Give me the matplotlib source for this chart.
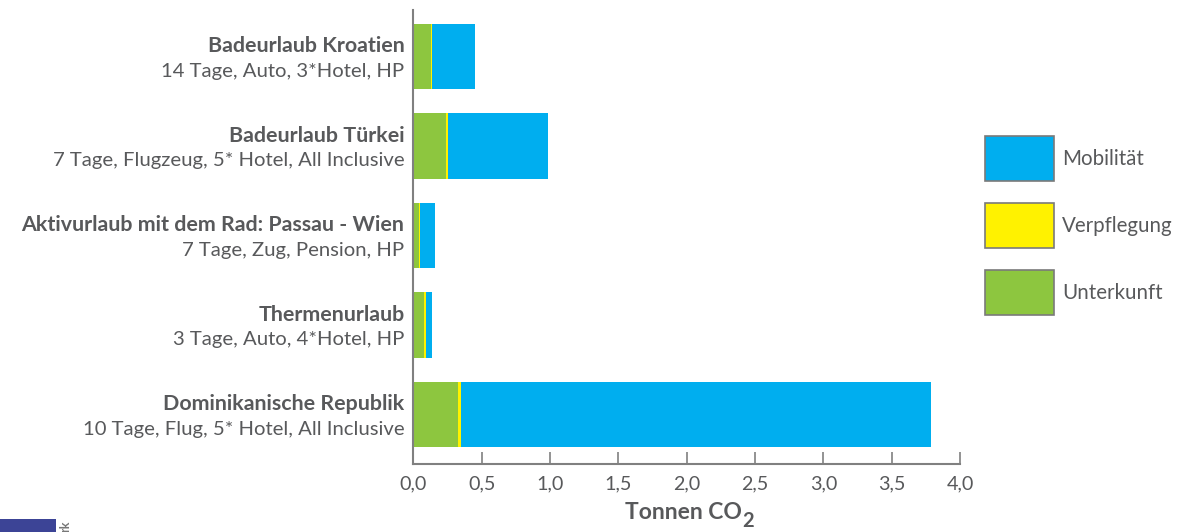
import numpy as np
import matplotlib
matplotlib.use("Agg")
from matplotlib import pyplot as plt
from matplotlib.patches import Rectangle, Circle

# Daten (von oben nach unten)
titel = ["Badeurlaub Kroatien", "Badeurlaub Türkei",
         "Aktivurlaub mit dem Rad: Passau - Wien", "Thermenurlaub",
         "Dominikanische Republik"]
details = ["14 Tage, Auto, 3*Hotel, HP",
           "7 Tage, Flugzeug, 5* Hotel, All Inclusive",
           "7 Tage, Zug, Pension, HP",
           "3 Tage, Auto, 4*Hotel, HP",
           "10 Tage, Flug, 5* Hotel, All Inclusive"]
unterkunft = [0.125, 0.235, 0.040, 0.075, 0.325]
verpflegung = [0.007, 0.015, 0.004, 0.015, 0.020]
mobilitaet = [0.315, 0.737, 0.115, 0.047, 3.445]
xticks = [0.0, 0.5, 1.0, 1.5, 2.0, 2.5, 3.0, 3.5, 4.0]

FONT = "Lato"
GRAU = "#58595b"
ACHSE = "#808080"
farben = {"Mobilität": "#00aeef", "Verpflegung": "#fff200", "Unterkunft": "#8dc63f"}

plt.rcParams["font.family"] = [FONT, "DejaVu Sans"]

W, H = 1201, 532
fig = plt.figure(figsize=(W / 100, H / 100), dpi=100)

def fx(px):
    return px / W

def fy(py):
    return 1 - py / H

ax = fig.add_axes([fx(413.5), fy(464), fx(960) - fx(413.5), fy(10) - fy(464)])

n = len(titel)
y = np.arange(n)[::-1]
u = np.array(unterkunft)
v = np.array(verpflegung)
m = np.array(mobilitaet)
hoehe = 0.73
ax.barh(y, u, height=hoehe, color=farben["Unterkunft"], lw=0)
ax.barh(y, v, left=u, height=hoehe, color=farben["Verpflegung"], lw=0)
ax.barh(y, m, left=u + v, height=hoehe, color=farben["Mobilität"], lw=0)

ax.set_xlim(0, 4)
ax.set_ylim(-0.553, 4.52)
ax.set_xticks(xticks)
ax.set_xticklabels([f"{t:.1f}".replace(".", ",") for t in xticks],
                   fontsize=14.2, color=GRAU)
ax.set_yticks([])
ax.tick_params(axis="x", direction="in", length=9, width=1.2, color=ACHSE, pad=8.5)
for s in ["top", "right"]:
    ax.spines[s].set_visible(False)
for s in ["left", "bottom"]:
    ax.spines[s].set_color(ACHSE)
    ax.spines[s].set_linewidth(1.5)

# Beschriftung der Kategorien
for yi, t, d in zip(y, titel, details):
    ax.annotate(t, xy=(0, yi), xycoords=("axes fraction", "data"),
                xytext=(-6.5, 7.5), textcoords="offset points",
                ha="right", va="center", fontsize=15.4, fontweight="bold", color=GRAU)
    ax.annotate(d, xy=(0, yi), xycoords=("axes fraction", "data"),
                xytext=(-6.5, -10.5), textcoords="offset points",
                ha="right", va="center", fontsize=14.6, color=GRAU)

# Achsentitel
tonnen = fig.text(fx(683), fy(519), "Tonnen CO", ha="center", va="baseline",
                  fontsize=16.5, fontweight="bold", color=GRAU)
ax.annotate("2", xy=(1, 0), xycoords=tonnen, xytext=(0.5, -3),
            textcoords="offset points", ha="left", va="baseline",
            fontsize=14.5, fontweight="bold", color=GRAU, annotation_clip=False)

# Legende
legende = [("Mobilität", 136), ("Verpflegung", 203), ("Unterkunft", 270)]
for name, top in legende:
    fig.add_artist(Rectangle((fx(985), fy(top + 45)), fx(69), fy(top) - fy(top + 45),
                             facecolor=farben[name], edgecolor="#7a7a7a", lw=1.2,
                             transform=fig.transFigure))
    fig.text(fx(1062), fy(top + 23), name, ha="left", va="center",
             fontsize=14.8, color=GRAU)

# Logo unten links (abgeschnitten)
fig.add_artist(Rectangle((0, 0), fx(56), fy(519), facecolor="#3c4496", lw=0,
                         transform=fig.transFigure))
fig.add_artist(Circle((fx(24), fy(542)), radius=fx(15), facecolor="none",
                      edgecolor="white", lw=1.5, transform=fig.transFigure))
fig.text(fx(65), fy(532), "rk", rotation=90, ha="center", va="bottom",
         fontsize=9, fontweight="bold", color="#777777")

fig.savefig("out.png", dpi=100)
